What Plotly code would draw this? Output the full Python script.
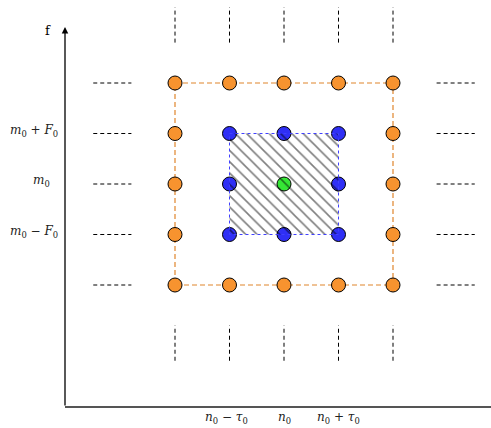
import plotly.graph_objects as go

# Grid offsets in units of tau0 (horizontal) and F0 (vertical)
outer_n = [-2, -1, 0, 1, 2, 2, 2, 2, 2, 1, 0, -1, -2, -2, -2, -2]
outer_m = [2, 2, 2, 2, 2, 1, 0, -1, -2, -2, -2, -2, -2, -1, 0, 1]
inner_n = [-1, 0, 1, 1, 1, 0, -1, -1]
inner_m = [1, 1, 1, 0, -1, -1, -1, 0]
center_n = [0]
center_m = [0]

# Ellipsis dashes beyond the outer ring
dash_near = 2.8
dash_far = 3.5
dash_rows = [2, 1, 0, -1, -2]
dash_cols = [-2, -1, 0, 1, 2]

ytick_vals = [1, 0, -1]
ytick_text = ["<i>m</i><sub>0</sub> + <i>F</i><sub>0</sub>", "<i>m</i><sub>0</sub>",
              "<i>m</i><sub>0</sub> − <i>F</i><sub>0</sub>"]
xtick_vals = [-1, 0, 1]
xtick_text = ["<i>n</i><sub>0</sub> − <i>τ</i><sub>0</sub>", "<i>n</i><sub>0</sub>",
              "<i>n</i><sub>0</sub> + <i>τ</i><sub>0</sub>"]

W, H = 491, 428
px_x, px_y = 54.5, 50.5          # pixels per unit
x0_px, y0_px = 284, 184          # where (n0, m0) sits
xr = [-x0_px / px_x, (W - x0_px) / px_x]
yr = [-(H - y0_px) / px_y, y0_px / px_y]
axis_x = (65 - x0_px) / px_x
axis_y = (y0_px - 407) / px_y
axis_top = (y0_px - 27) / px_y
ylabel_right = [60, 52, 60]      # right edge of each y label, px

SERIF = "DejaVu Serif"
fig = go.Figure()

# dashed ellipsis segments
for r in dash_rows:
    for a, b in [(-dash_far, -dash_near), (dash_near, dash_far)]:
        fig.add_trace(go.Scatter(x=[a, b], y=[r, r], mode="lines",
                                 line=dict(color="black", width=1, dash="4px,3px"),
                                 hoverinfo="skip", showlegend=False))
for c in dash_cols:
    for a, b in [(dash_near, dash_far), (-dash_far, -dash_near)]:
        fig.add_trace(go.Scatter(x=[c, c], y=[a, b], mode="lines",
                                 line=dict(color="black", width=1, dash="4px,3px"),
                                 hoverinfo="skip", showlegend=False))

# orange outer ring outline
fig.add_trace(go.Scatter(x=[-2, 2, 2, -2, -2], y=[2, 2, -2, -2, 2], mode="lines",
                         line=dict(color="#e0852c", width=1.2, dash="5px,3px"),
                         hoverinfo="skip", showlegend=False))

# points
for xs, ys, col in [(outer_n, outer_m, "#f7932f"), (inner_n, inner_m, "#2f2ff5"),
                    (center_n, center_m, "#35e635")]:
    fig.add_trace(go.Scatter(x=xs, y=ys, mode="markers",
                             marker=dict(size=14, color=col, line=dict(color="black", width=1)),
                             showlegend=False, cliponaxis=False))

# hatched inner square with blue dotted border, on an overlay axis so it sits above the points
fig.add_trace(go.Scatter(x=[-1, 1, 1, -1, -1], y=[1, 1, -1, -1, 1], mode="lines",
                         xaxis="x2", yaxis="y2",
                         fill="toself", fillcolor="rgba(0,0,0,0)",
                         fillpattern=dict(shape="\\", fgcolor="black", bgcolor="rgba(0,0,0,0)",
                                          size=8, solidity=0.2, fillmode="overlay"),
                         line=dict(color="#4040ff", width=1, dash="dot"),
                         hoverinfo="skip", showlegend=False))

# axes
fig.add_shape(type="line", x0=axis_x, x1=xr[1], y0=axis_y, y1=axis_y,
              line=dict(color="#555555", width=2))
fig.add_annotation(x=axis_x, y=axis_top, ax=axis_x, ay=axis_y, xref="x", yref="y",
                   axref="x", ayref="y", showarrow=True, arrowhead=2, arrowsize=1,
                   arrowwidth=1.3, arrowcolor="black", text="")
fig.add_annotation(x=(48 - x0_px) / px_x, y=(y0_px - 30) / px_y, text="f", showarrow=False,
                   font=dict(family=SERIF, size=13, color="black"))

for v, t, rx in zip(ytick_vals, ytick_text, ylabel_right):
    fig.add_annotation(x=(rx - x0_px) / px_x, y=v + 0.05, text=t, showarrow=False,
                       xanchor="right", font=dict(family=SERIF, size=12, color="#222"))
for v, t in zip(xtick_vals, xtick_text):
    fig.add_annotation(x=v - 0.06 * (v < 0), y=(y0_px - 418) / px_y, text=t, showarrow=False,
                       font=dict(family=SERIF, size=12, color="#222"))

fig.update_layout(width=W, height=H, margin=dict(l=0, r=0, t=0, b=0),
                  paper_bgcolor="white", plot_bgcolor="white",
                  xaxis=dict(range=xr, visible=False),
                  yaxis=dict(range=yr, visible=False),
                  xaxis2=dict(range=xr, visible=False, overlaying="x"),
                  yaxis2=dict(range=yr, visible=False, overlaying="y"))
fig.write_html("out.html")
